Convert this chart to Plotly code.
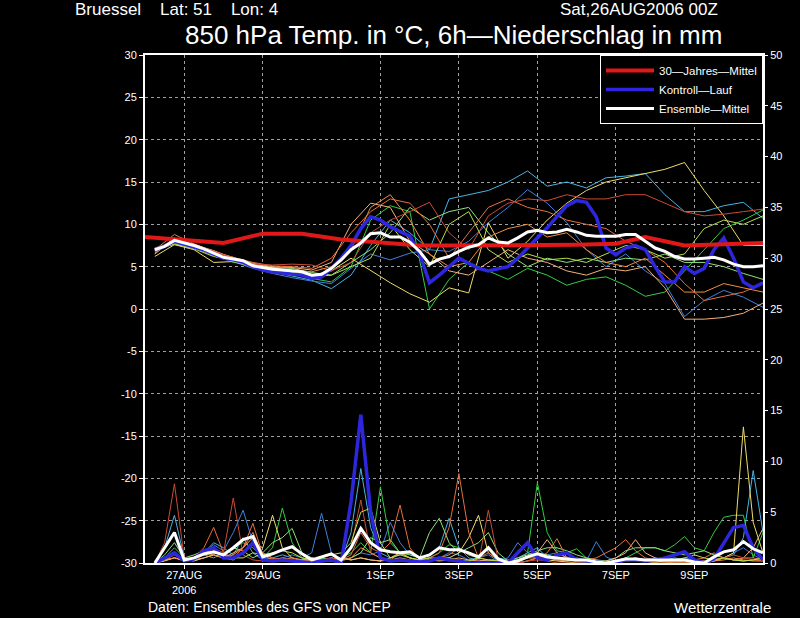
import plotly.graph_objects as go
import pandas as pd

# ---------------- time axes (forecast hours after 26AUG2006 00Z) ----------------
hours_6h = list(range(6, 379, 6))      # 63 steps, 6-hourly
hours_12h = list(range(6, 379, 12))    # 32 steps, 12-hourly (ensemble members, temperature)
clim_hours = [0, 24, 48, 72, 96, 120, 144, 168, 192, 216, 240, 264, 288, 306, 330, 360, 378]

tick_dates = ["2006-08-27", "2006-08-29", "2006-09-01", "2006-09-03",
              "2006-09-05", "2006-09-07", "2006-09-09"]
tick_labels = ["27AUG<br>2006", "29AUG", "1SEP", "3SEP", "5SEP", "7SEP", "9SEP"]

# ---------------- 30-year mean (850 hPa temperature) ----------------
clim_temp = [8.5, 8.2, 7.8, 8.9, 8.9, 8.2, 7.8, 7.5, 7.5, 7.5, 7.5, 7.6, 7.7, 8.5, 7.5, 7.7, 7.8]

# ---------------- ensemble mean (6-hourly) ----------------
mean_temp = [7.0, 7.4, 8.1, 7.8, 7.5, 7.1, 6.6, 6.1, 5.9,
             5.7, 5.1, 4.9, 4.7, 4.6, 4.5, 4.4, 4.0, 4.1,
             4.8, 5.8, 7.0, 7.8, 8.9, 9.0, 8.5, 8.5, 7.9,
             6.8, 5.3, 5.9, 6.2, 6.8, 7.3, 7.6, 8.4, 7.9,
             7.8, 8.4, 9.1, 9.3, 9.0, 9.1, 9.4, 9.1, 8.7,
             8.6, 8.6, 8.6, 8.8, 8.8, 8.0, 7.2, 6.8, 6.2,
             5.9, 5.9, 6.0, 6.1, 5.8, 5.3, 5.0, 5.0, 5.1]
mean_prec = [0.0, 1.5, 3.0, 0.3, 0.5, 0.9, 1.1, 0.8, 1.5,
             2.3, 2.6, 0.6, 0.9, 1.3, 1.6, 0.9, 0.3, 0.6,
             0.9, 0.3, 1.5, 3.4, 2.0, 1.3, 1.1, 1.0, 1.1,
             0.5, 0.8, 1.5, 1.3, 1.3, 1.0, 0.6, 1.5, 0.4,
             0.0, 0.2, 0.6, 0.9, 0.6, 0.5, 0.4, 0.3, 0.3,
             0.1, 0.0, 0.2, 0.4, 0.4, 0.3, 0.3, 0.3, 0.3,
             0.3, 0.1, 0.0, 0.6, 1.1, 1.3, 2.1, 1.4, 1.0]

# ---------------- control run (6-hourly) ----------------
ctrl_temp = [7.0, 7.4, 8.0, 7.7, 7.4, 7.0, 6.5, 6.0, 5.8,
             5.5, 5.0, 4.6, 4.4, 4.3, 4.2, 4.0, 3.6, 3.8,
             4.8, 6.0, 7.5, 9.5, 10.9, 10.5, 9.7, 9.1, 8.6,
             6.5, 3.1, 4.0, 5.0, 6.0, 5.4, 4.8, 4.5, 4.7,
             5.0, 6.0, 7.2, 8.3, 9.6, 10.9, 12.2, 12.8, 12.6,
             10.9, 7.2, 6.4, 7.2, 7.5, 7.0, 5.0, 3.2, 3.2,
             5.0, 4.2, 4.8, 7.0, 8.4, 6.0, 3.2, 2.5, 3.1]
ctrl_prec = [0.0, 0.5, 1.0, 0.2, 0.4, 1.2, 1.5, 0.5, 0.5,
             1.0, 2.0, 0.3, 0.2, 0.3, 0.2, 0.1, 0.0, 0.2,
             0.3, 0.0, 6.0, 14.6, 5.0, 0.5, 0.2, 0.3, 0.2,
             0.1, 0.2, 0.5, 0.3, 0.2, 0.0, 0.0, 0.0, 0.0,
             0.0, 1.0, 2.0, 0.5, 0.3, 0.8, 1.0, 0.3, 0.2,
             0.1, 0.0, 0.0, 0.3, 0.3, 0.2, 0.3, 0.5, 0.8,
             1.1, 0.3, 0.0, 0.4, 2.0, 3.5, 3.7, 1.5, 0.3]

# ---------------- ensemble members: temperature (12-hourly) ----------------
m01_temp = [6.9, 8.0, 7.4, 6.5, 5.8, 4.9, 4.4, 3.9, 3.4, 2.4, 4.0, 7.5, 10.5, 9.0, 7.0, 13.0,
            13.5, 14.0, 15.0, 16.3, 14.5, 15.0, 14.3, 15.5, 15.7, 16.0, 13.5, 11.5, 11.5, 12.2, 12.6, 10.7]
m02_temp = [6.8, 7.8, 7.2, 6.3, 5.6, 4.8, 4.2, 3.7, 3.3, 3.0, 4.8, 6.5, 5.8, 6.6, 7.0, 6.8,
            8.0, 10.2, 12.0, 14.1, 12.5, 10.2, 7.0, 5.0, 6.5, 4.5, 3.0, -0.9, 1.0, 2.2, 1.4, 0.2]
m03_temp = [7.1, 7.6, 7.2, 6.5, 5.5, 5.2, 4.6, 4.3, 3.6, 3.2, 5.0, 10.5, 12.2, 11.5, 0.0, 3.5,
            5.5, 4.5, 3.5, 4.8, 4.0, 2.8, 3.5, 3.8, 2.8, 1.5, 2.0, 4.5, 7.0, 9.5, 10.5, 11.7]
m04_temp = [7.2, 7.9, 7.4, 6.7, 6.1, 5.3, 4.9, 4.8, 4.3, 4.0, 5.5, 7.0, 9.0, 12.0, 10.5, 11.5,
            12.0, 9.0, 6.5, 5.0, 6.0, 5.5, 6.0, 5.5, 6.0, 5.8, 6.5, 5.5, 5.5, 5.0, 4.2, 3.5]
m05_temp = [6.2, 7.6, 7.0, 5.5, 5.6, 5.0, 4.9, 4.3, 4.0, 4.5, 6.0, 4.5, 3.1, 1.8, 0.8, 2.5,
            1.9, 10.2, 6.0, 8.0, 10.5, 12.5, 14.0, 15.0, 15.5, 16.0, 16.5, 17.3, 14.0, 11.0, 7.5, 7.5]
m06_temp = [6.5, 8.3, 7.6, 6.9, 6.0, 5.4, 5.0, 4.9, 4.6, 5.5, 10.0, 12.5, 12.0, 8.0, 6.5, 4.5,
            4.0, 5.5, 7.0, 6.0, 5.5, 4.5, 4.0, 4.8, 4.5, 5.0, 2.5, -1.2, -1.2, -1.0, -0.5, 0.7]
m07_temp = [7.0, 8.8, 7.7, 6.8, 6.1, 5.5, 5.1, 5.0, 4.8, 6.0, 9.0, 11.5, 13.0, 12.5, 10.0, 6.0,
            9.0, 12.0, 13.0, 12.0, 11.5, 10.5, 10.0, 9.5, 8.0, 7.0, 5.5, 3.0, 1.0, 1.5, 2.0, 3.0]
m08_temp = [7.0, 8.2, 7.6, 6.8, 6.0, 5.3, 5.2, 5.3, 5.2, 4.5, 5.5, 9.0, 10.5, 11.5, 12.6, 9.0,
            7.0, 11.0, 12.5, 13.0, 12.8, 13.5, 13.0, 13.0, 13.5, 13.5, 12.5, 11.5, 11.0, 11.2, 11.5, 11.8]
m09_temp = [6.6, 8.4, 7.3, 6.4, 5.7, 5.0, 4.8, 4.6, 4.4, 5.0, 7.0, 12.0, 13.5, 10.5, 6.5, 5.0,
            5.5, 8.5, 9.5, 10.0, 8.5, 9.0, 7.0, 5.5, 5.0, 6.0, 4.0, 2.0, 2.0, 3.0, 2.5, 2.0]
m10_temp = [6.9, 7.7, 7.1, 6.2, 5.7, 4.9, 4.5, 4.2, 3.8, 4.0, 5.0, 6.0, 10.0, 7.0, 5.0, 10.0,
            11.5, 7.0, 5.5, 6.5, 5.8, 6.0, 5.5, 6.5, 7.5, 7.0, 6.0, 6.5, 9.5, 10.5, 10.0, 11.0]

# ---------------- ensemble members: 6h precipitation (6-hourly) ----------------
m01_prec = [0, 1.5, 4.7, 0.5, 0.3, 1.0, 2.0, 1.5, 0.8,
            2.5, 1.0, 0.3, 0.5, 0.8, 0.5, 0.2, 0.1, 0.5,
            0.3, 0.2, 3.0, 9.3, 3.5, 1.0, 0.5, 0.8, 1.0,
            0.5, 0.8, 1.5, 4.4, 1.5, 0.5, 0.3, 0.2, 0.5,
            0.3, 0.5, 1.0, 1.5, 0.5, 0.3, 0.2, 0.5, 0.3,
            0, 0, 0.2, 0.3, 0.5, 0.3, 0.2, 0.3, 0.5,
            0.3, 0.2, 0, 0.3, 0.5, 0.8, 2.5, 9.1, 3.0]
m02_prec = [0, 0.5, 1.0, 0.3, 0.5, 1.0, 1.8, 1.2, 3.0,
            5.2, 2.0, 0.5, 0.3, 0.5, 0.8, 0.5, 1.0, 4.9,
            1.0, 0.3, 0.5, 1.0, 0.8, 1.2, 4.0, 2.0, 0.8,
            0.5, 0.3, 0.5, 1.0, 0.8, 0.3, 0.5, 0.8, 0.2,
            0.5, 2.0, 1.0, 0.5, 0.8, 1.0, 0.6, 0.3, 0.2,
            2.1, 0.6, 0.2, 0.3, 0.3, 0.2, 0.5, 0.3, 0.2,
            0.5, 0.3, 0, 0.2, 0.5, 1.0, 1.5, 0.8, 0.3]
m03_prec = [0, 0.5, 1.5, 0.5, 0.3, 0.8, 0.5, 1.0, 1.5,
            2.0, 1.5, 0.5, 1.5, 5.4, 2.0, 0.5, 0.3, 0.5,
            0.3, 0.5, 1.0, 2.0, 1.0, 7.5, 2.0, 1.0, 0.5,
            0.3, 0.5, 1.0, 1.8, 1.5, 0.8, 0.5, 1.5, 0.3,
            0.2, 0.3, 1.0, 7.9, 3.0, 1.2, 1.0, 1.4, 0.5,
            0.3, 0, 0.2, 0.5, 1.0, 1.5, 1.5, 1.2, 1.8,
            2.6, 1.5, 1.2, 3.0, 4.5, 4.7, 4.7, 0.5, 3.0]
m04_prec = [0, 0.8, 2.0, 0.5, 0.8, 1.2, 1.0, 0.8, 1.5,
            1.2, 0.5, 1.0, 2.0, 2.5, 3.4, 1.0, 0.5, 0.3,
            0.5, 0.3, 0.5, 1.0, 2.5, 2.0, 2.3, 1.0, 0.8,
            0.5, 3.0, 4.4, 2.0, 1.0, 1.5, 2.0, 3.0, 1.0,
            0.2, 0.5, 0.8, 1.2, 1.5, 1.5, 1.2, 0.8, 0.5,
            0.3, 0.2, 0.5, 1.2, 1.5, 1.5, 1.5, 1.2, 1.0,
            0.8, 1.0, 1.2, 0.8, 0.5, 0.3, 0.2, 0.3, 0.5]
m05_prec = [0, 0.2, 0.5, 0.3, 0.2, 0.5, 0.8, 0.5, 0.3,
            1.0, 2.0, 1.5, 4.7, 1.5, 0.5, 0.3, 0.5, 0.3,
            0.2, 0.5, 0.3, 0.5, 0.3, 0.2, 0.5, 1.0, 0.5,
            0.2, 0.3, 0.5, 0.5, 1.0, 2.5, 4.7, 1.0, 0.3,
            0, 0, 0.2, 0.5, 0.3, 0.2, 0.1, 0, 0,
            0, 0, 0, 0.2, 0.3, 0.2, 0, 0, 0,
            0, 0, 0, 0.2, 0.5, 1.0, 13.4, 4.0, 1.0]
m06_prec = [0, 0.3, 0.5, 0.2, 0.3, 0.5, 0.8, 0.5, 1.0,
            1.5, 2.5, 1.0, 0.5, 0.3, 0.2, 0.3, 0.5, 0.3,
            0.2, 0.5, 0.3, 0.5, 0.3, 0.2, 0.3, 0.5, 0.3,
            0.2, 0.3, 0.2, 0.3, 0.5, 0.3, 0.2, 0.3, 0.2,
            0, 0.2, 0.5, 1.0, 2.3, 1.0, 0.5, 0.3, 0.2,
            0, 0.2, 0.5, 1.0, 2.3, 1.0, 0.5, 0.3, 0.2,
            0.2, 0.3, 0.2, 0.3, 0.5, 0.3, 0.5, 1.5, 3.4]
m07_prec = [0, 0.3, 0.8, 0.2, 0.5, 1.5, 3.5, 1.0, 0.5,
            1.5, 3.9, 0.8, 0.5, 0.3, 0.5, 0.3, 0.2, 0.3,
            0.5, 0.3, 0.8, 3.0, 1.5, 1.0, 2.0, 5.7, 1.5,
            0.3, 0.5, 1.0, 3.5, 8.8, 3.0, 0.5, 1.0, 0.3,
            0, 0, 0.2, 0.5, 1.0, 2.4, 0.5, 0.2, 0.3,
            0.5, 1.0, 1.5, 2.3, 1.2, 0.5, 0.3, 0.2, 0.1,
            0.2, 0.3, 0.5, 1.0, 0.5, 0.3, 0.5, 0.5, 0.3]
m08_prec = [0, 2.0, 7.8, 0.5, 0.3, 0.8, 1.5, 1.0, 6.4,
            0.8, 0.3, 0.2, 0.5, 0.3, 0.2, 0, 0, 0.3,
            0.5, 0.2, 1.5, 6.2, 1.0, 0.5, 0.2, 0.3, 0.1,
            0, 0.2, 0.4, 0.3, 0.2, 0.1, 0, 5.2, 0.3,
            0, 0, 0.2, 0.3, 0.2, 0, 0, 0, 0,
            0, 0, 0, 0.2, 0.4, 0.2, 0, 0, 0,
            0, 0, 0, 0.3, 0.5, 0.8, 0.5, 0.3, 0.2]
m09_prec = [0, 0.3, 0.5, 0.3, 0.5, 1.0, 0.8, 0.5, 0.8,
            1.5, 3.0, 0.8, 0.3, 0.5, 0.3, 0.2, 0.3, 0.2,
            0.3, 0.2, 0.5, 1.5, 1.0, 0.5, 0.3, 1.0, 0.5,
            0.3, 0.5, 0.5, 0.8, 1.5, 0.8, 0.5, 0.3, 0.2,
            0.2, 0.3, 0.5, 0.5, 0.5, 0.3, 0.2, 0.2, 0.1,
            0, 0, 0.2, 0.3, 0.5, 0.3, 0.2, 0.1, 0,
            0, 0, 0, 0.2, 0.3, 0.5, 0.3, 0.2, 0.2]
m10_prec = [0, 0.5, 1.0, 0.3, 0.5, 0.8, 1.0, 0.8, 0.5,
            0.5, 1.0, 0.8, 1.0, 1.2, 1.0, 0.5, 0.3, 0.5,
            0.8, 1.0, 2.0, 5.0, 5.4, 2.0, 0.5, 0.8, 0.5,
            0.3, 0.5, 0.3, 0.5, 0.3, 0.2, 0.5, 0.3, 0.2,
            0.2, 0.3, 0.5, 1.0, 0.8, 0.5, 0.3, 0.2, 0.1,
            0, 0, 0.2, 0.5, 0.3, 0.2, 0.1, 0.2, 0.3,
            0.5, 0.8, 0.5, 0.3, 0.5, 0.3, 0.2, 0.3, 0.5]

member_temps = [m01_temp, m02_temp, m03_temp, m04_temp, m05_temp,
                m06_temp, m07_temp, m08_temp, m09_temp, m10_temp]
member_precs = [m01_prec, m02_prec, m03_prec, m04_prec, m05_prec,
                m06_prec, m07_prec, m08_prec, m09_prec, m10_prec]
member_colors = ["#45b5e5", "#3f80e0", "#33cc44", "#8ee27a", "#eedd66",
                 "#f5b07a", "#e8703c", "#cc4b35", "#ee9040", "#b5e04a"]

BASE = pd.Timestamp("2006-08-26 00:00")


def to_dates(hours):
    return [BASE + pd.Timedelta(hours=h) for h in hours]


x6 = to_dates(hours_6h)
x12 = to_dates(hours_12h)
xclim = to_dates(clim_hours)

FONT = "Liberation Sans"
fig = go.Figure()

for vals, col in zip(member_precs, member_colors):
    fig.add_trace(go.Scatter(x=x6, y=vals, yaxis="y2", mode="lines",
                             line=dict(color=col, width=1), showlegend=False,
                             hoverinfo="skip"))
for vals, col in zip(member_temps, member_colors):
    fig.add_trace(go.Scatter(x=x12, y=vals, mode="lines",
                             line=dict(color=col, width=1), showlegend=False,
                             hoverinfo="skip"))

fig.add_trace(go.Scatter(x=x6, y=ctrl_prec, yaxis="y2", mode="lines",
                         line=dict(color="#2e26dc", width=3.5), showlegend=False))
fig.add_trace(go.Scatter(x=x6, y=ctrl_temp, mode="lines", name="Kontroll—Lauf",
                         line=dict(color="#2e26dc", width=3.5), legendrank=2))
fig.add_trace(go.Scatter(x=xclim, y=clim_temp, mode="lines", name="30—Jahres—Mittel",
                         line=dict(color="#e01818", width=4), legendrank=1))
fig.add_trace(go.Scatter(x=x6, y=mean_prec, yaxis="y2", mode="lines",
                         line=dict(color="#ffffff", width=3), showlegend=False))
fig.add_trace(go.Scatter(x=x6, y=mean_temp, mode="lines", name="Ensemble—Mittel",
                         line=dict(color="#ffffff", width=3), legendrank=3))

left_vals = list(range(-30, 31, 5))
right_vals = list(range(0, 51, 5))

fig.update_layout(
    width=800, height=618, autosize=False,
    margin=dict(l=145, r=37, t=55, b=55),
    paper_bgcolor="black", plot_bgcolor="black",
    font=dict(family=FONT, color="white", size=11),
    xaxis=dict(type="date",
               range=[BASE, BASE + pd.Timedelta(hours=378)],
               tickvals=tick_dates, ticktext=tick_labels,
               showgrid=True, gridcolor="#a0a0a0", griddash="dot", gridwidth=1,
               showline=True, linecolor="white", linewidth=2, mirror=True,
               ticks="outside", ticklen=4, tickcolor="white", ticklabelstandoff=-3,
               tickfont=dict(size=11, color="white"), zeroline=False),
    yaxis=dict(range=[-30, 30], tickvals=left_vals,
               ticktext=[str(v) for v in left_vals],
               showgrid=True, gridcolor="#a0a0a0", griddash="dot", gridwidth=1,
               showline=True, linecolor="white", linewidth=2, mirror=True,
               ticks="outside", ticklen=4, tickcolor="white",
               tickfont=dict(size=11, color="white"), zeroline=False),
    yaxis2=dict(range=[0, 50], tickvals=right_vals,
                ticktext=[str(v) for v in right_vals],
                overlaying="y", side="right", showgrid=False, zeroline=False,
                showline=False, ticks="outside", ticklen=4, tickcolor="white",
                tickfont=dict(size=11, color="white")),
    legend=dict(x=1, xanchor="right", y=1, yanchor="top",
                bgcolor="black", bordercolor="white", borderwidth=1,
                font=dict(size=11.5, color="white", family=FONT),
                itemwidth=48, tracegroupgap=0, traceorder="normal"),
    showlegend=True,
)

NB = "\u00a0"
annots = [
    dict(text="Bruessel" + NB * 4 + "Lat: 51" + NB * 4 + "Lon: 4",
         x=(73 - 145) / 618, y=(563 - 10) / 508,
         xanchor="left", yanchor="middle", font=dict(size=17)),
    dict(text="Sat,26AUG2006 00Z", x=(720 - 145) / 618, y=(563 - 10) / 508,
         xanchor="right", yanchor="middle", font=dict(size=17)),
    dict(text="850 hPa Temp. in °C, 6h—Niederschlag in mm", x=(453 - 145) / 618,
         y=(563 - 35) / 508, xanchor="center", yanchor="middle", font=dict(size=26)),
    dict(text="Daten: Ensembles des GFS von NCEP", x=(146 - 145) / 618,
         y=(563 - 607) / 508, xanchor="left", yanchor="middle", font=dict(size=14)),
    dict(text="Wetterzentrale", x=(773 - 145) / 618, y=(563 - 607) / 508,
         xanchor="right", yanchor="middle", font=dict(size=15)),
]
for a in annots:
    a.update(xref="paper", yref="paper", showarrow=False)
    a["font"].update(family=FONT, color="white")
    fig.add_annotation(**a)

fig.write_html("out.html",
               config={"displayModeBar": False},
               post_script="document.body.style.margin='0px';"
                           "document.body.style.overflow='hidden';")
